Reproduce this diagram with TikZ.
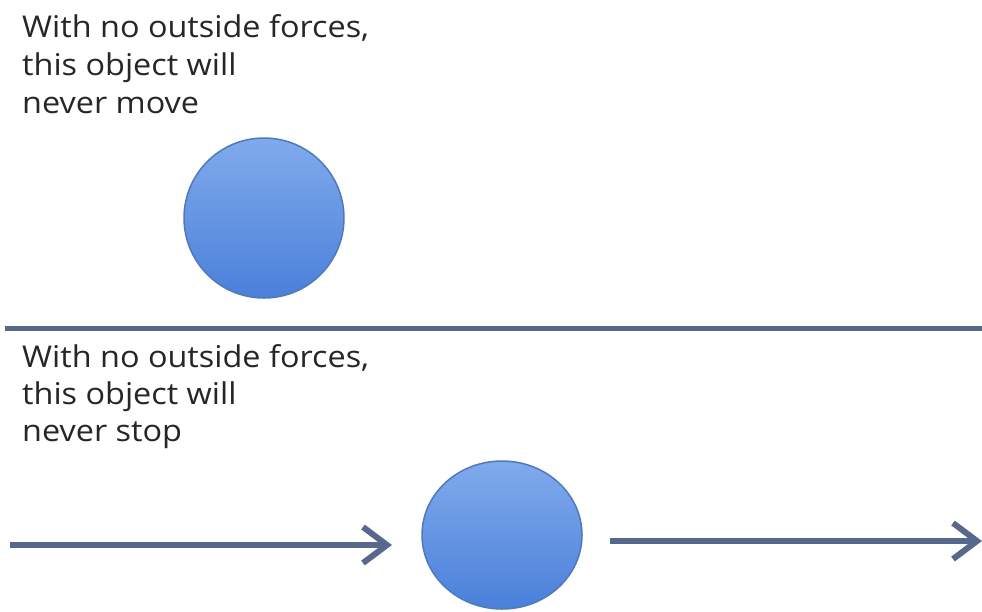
\documentclass[tikz,border=0pt]{standalone}
\usepackage{fontspec}
\setmainfont{Open Sans}[FakeStretch=1.08]
\usetikzlibrary{arrows.meta,shapes.geometric}
\definecolor{linecol}{HTML}{56698C}
\definecolor{balltop}{HTML}{80AAEC}
\definecolor{ballbot}{HTML}{4A80DA}
\definecolor{ballrim}{HTML}{5079BC}
\definecolor{txtcol}{HTML}{262626}
\begin{document}
\begin{tikzpicture}[x=1pt,y=-1pt,
  lbl/.style={anchor=base west,inner sep=0pt,font=\fontsize{30}{38}\selectfont,text=txtcol},
  ball/.style={ellipse,draw=ballrim,line width=1.5pt,top color=balltop,bottom color=ballbot,inner sep=0pt},
  sep/.style={draw=linecol,line width=5pt},
  motion/.style={draw=linecol,line width=6pt,-{Straight Barb[length=24pt,width=36pt]}}]
\useasboundingbox (0,0) rectangle (982,611);
\node[lbl] (ta) at (22,37) {With no outside forces,};
\node[lbl] (tb) at (22,75) {this object will};
\node[lbl] (tc) at (22,113) {never move};
\node[ball,minimum width=160pt,minimum height=160pt] (b1) at (264,218) {};
\coordinate (s1) at (5,328);
\coordinate (s2) at (982,328);
\draw[sep] (s1) -- (s2);
\node[lbl] (ba) at (22,367) {With no outside forces,};
\node[lbl] (bb) at (22,404) {this object will};
\node[lbl] (bc) at (22,441) {never stop};
\node[ball,minimum width=160pt,minimum height=148pt] (b2) at (502,535) {};
\coordinate (l1) at (10,545);
\coordinate (l2) at (392,545);
\coordinate (r1) at (610,541);
\coordinate (r2) at (982,541);
\draw[motion] (l1) -- (l2);
\draw[motion] (r1) -- (r2);
\end{tikzpicture}
\end{document}
